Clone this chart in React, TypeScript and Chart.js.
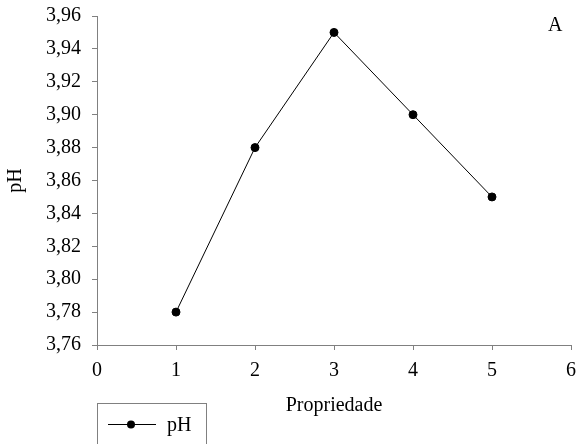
import React, { useEffect, useRef } from "react";
import { Chart, registerables } from "chart.js";

Chart.register(...registerables);

const xValues = [1, 2, 3, 4, 5];
const phValues = [3.78, 3.88, 3.95, 3.9, 3.85];
const seriesLabel = "pH";
const xTitle = "Propriedade";
const yTitle = "pH";
const panelLabel = "A";

const FONT = '"Liberation Serif", "Times New Roman", serif';
const AXIS = "#808080";

const overlay = {
  id: "overlay",
  afterDraw(chart: any) {
    const ctx = chart.ctx;
    ctx.save();
    ctx.font = `20px ${FONT}`;
    ctx.fillStyle = "#000";
    ctx.textBaseline = "alphabetic";
    ctx.textAlign = "left";
    ctx.fillText(panelLabel, 548, 31);
    // legend box
    ctx.strokeStyle = AXIS;
    ctx.lineWidth = 1;
    ctx.strokeRect(97.5, 403.5, 109, 60);
    ctx.strokeStyle = "#000";
    ctx.beginPath();
    ctx.moveTo(108, 424.5);
    ctx.lineTo(156, 424.5);
    ctx.stroke();
    ctx.beginPath();
    ctx.arc(131, 424.5, 4, 0, Math.PI * 2);
    ctx.fill();
    ctx.fillText(seriesLabel, 167, 431);
    ctx.restore();
  },
};

export default function App() {
  const ref = useRef<HTMLCanvasElement>(null);
  useEffect(() => {
    const chart = new Chart(ref.current!, {
      type: "line",
      data: {
        datasets: [
          {
            label: seriesLabel,
            data: xValues.map((x, i) => ({ x, y: phValues[i] })),
            borderColor: "#000",
            backgroundColor: "#000",
            borderWidth: 1,
            pointRadius: 4,
            pointBackgroundColor: "#000",
            pointBorderColor: "#000",
            tension: 0,
          },
        ],
      },
      options: {
        animation: false,
        responsive: false,
        layout: { padding: { top: 16, right: 4, left: 0, bottom: 0 } },
        plugins: { legend: { display: false }, tooltip: { enabled: false } },
        scales: {
          x: {
            type: "linear",
            min: 0,
            max: 6,
            offset: false,
            afterFit: (s: any) => {
              s.height = 99;
              s.paddingLeft = 0;
              s.paddingRight = 0;
            },
            ticks: {
              stepSize: 1,
              color: "#000",
              padding: 9,
              font: { family: FONT, size: 20 },
            },
            grid: { drawOnChartArea: false, drawTicks: true, tickLength: 5, color: AXIS },
            border: { display: true, color: AXIS },
            title: {
              display: true,
              text: xTitle,
              color: "#000",
              font: { family: FONT, size: 20 },
              padding: { top: 0, bottom: 26 },
            },
          },
          y: {
            type: "linear",
            min: 3.76,
            max: 3.96,
            afterFit: (s: any) => {
              s.width = 97;
              s.paddingTop = 0;
              s.paddingBottom = 0;
            },
            ticks: {
              stepSize: 0.02,
              color: "#000",
              padding: 11,
              font: { family: FONT, size: 20 },
              callback: (v: any) => Number(v).toFixed(2).replace(".", ","),
            },
            grid: { drawOnChartArea: false, drawTicks: true, tickLength: 5, color: AXIS },
            border: { display: true, color: AXIS },
            title: {
              display: true,
              text: yTitle,
              color: "#000",
              font: { family: FONT, size: 20 },
              padding: { top: 4, bottom: 0 },
            },
          },
        },
      },
      plugins: [overlay],
    });
    return () => chart.destroy();
  }, []);
  return (
    <div style={{ position: "fixed", left: 0, top: 0, width: 576, height: 444, background: "#fff" }}>
      <canvas ref={ref} width={576} height={444} style={{ display: "block" }} />
    </div>
  );
}
